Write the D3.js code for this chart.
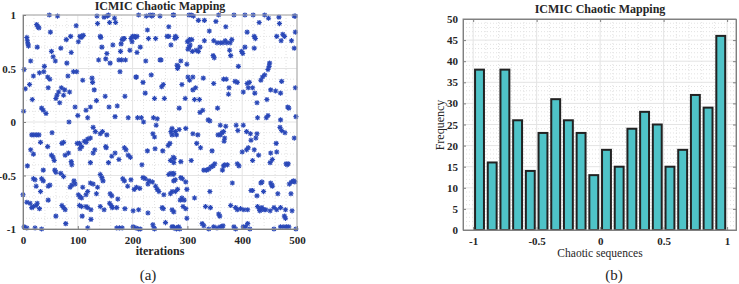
<!DOCTYPE html>
<html>
<head>
<meta charset="utf-8">
<script src="https://cdn.jsdelivr.net/npm/d3@7"></script>
<style>
  body { margin: 0; background: #fff; }
  text { font-family: "Liberation Serif", "Times New Roman", serif; fill: #262626; }
</style>
</head>
<body>
<div id="app"></div>
<script>
// scatter: [iteration, value]
const points = [
  [1,0.10],[2,0.49],[4,0.31],[7,0.79],[8,0.76],[9,0.73],[10,0.71],[12,0.35],[14,0.57],[17,0.21],[19,0.43],[25,0.91],[27,0.89],[29,0.88],[26,0.70],[30,0.46],[34,0.13],[37,0.11],[38,0.47],[39,0.52],[42,0.08],[45,0.42],[46,0.32],[48,1.0],[49,0.40],[50,0.84],[52,0.66],[55,0.61],[59,0.57],[60,0.22],[62,0.25],[63,0.99],[65,0.28],[67,0.18],[69,0.69],[70,0.32],[74,0.25],[76,0.30],[79,0.77],[80,0.55],[82,0.43],[84,0.0],[85,0.28],[87,0.80],[88,0.65],[92,0.47],[95,0.14],[97,0.90],[98,0.47],[100,0.06],[101,0.75],[104,0.80],[106,0.79],[108,0.80],[110,0.81],[109,0.39],[115,0.11],[118,0.04],[123,0.14],[126,0.41],[127,0.37],[128,-0.05],[130,0.30],[134,0.20],[135,0.99],[136,0.92],[138,0.58],[141,0.80],[142,0.79],[144,0.70],[150,0.24],[148,0.98],[151,0.59],[153,0.64],[154,0.99],[156,1.0],[157,0.14],[158,0.93],[159,0.55],[164,0.72],[167,0.97],[169,0.93],[168,0.05],[172,0.15],[175,0.58],[177,0.47],[178,0.66],[179,0.73],[180,0.58],[181,0.77],[183,0.78],[185,0.78],[186,0.24],[187,0.58],[192,0.04],[195,0.67],[197,0.78],[199,0.75],[200,0.80],[203,0.80],[205,0.79],[206,0.42],[207,0.42],[208,0.65],[208,0.80],[209,0.04],[211,1.0],[214,0.70],[216,0.04],[219,0.37],[220,0.0],[223,0.27],[224,0.57],[225,0.99],[227,0.86],[229,0.78],[232,1.0],[235,0.99],[237,1.0],[234,0.44],[238,0.04],[240,0.22],[242,0.78],[243,-0.03],[245,0.03],[250,0.99],[250,0.58],[252,0.58],[253,0.33],[256,0.35],[258,0.22],[263,0.80],[266,0.80],[266,0.89],[270,0.72],[274,1.0],[278,0.80],[280,0.79],[281,0.53],[283,0.52],[285,0.13],
  [275,1.0],[303,1.0],[307,1.0],[311,0.99],[320,0.95],[331,0.95],[352,0.94],[357,1.0],[385,1.0],[405,1.0],[420,1.0],[431,0.93],[441,1.0],[448,0.97],[467,0.98],[468,0.92],[495,0.99],[497,0.99],[277,0.78],[282,0.50],[288,0.57],[299,0.54],[300,0.75],[302,0.76],[304,0.77],[305,0.72],[303,0.70],[301,0.68],[309,0.66],[308,0.77],[316,0.67],[320,0.66],[323,0.70],[331,0.76],[340,0.85],[348,0.76],[354,0.74],[360,0.74],[365,0.74],[369,0.76],[372,0.74],[378,0.74],[381,0.77],[347,0.62],[349,0.60],[370,0.89],[377,0.67],[379,0.62],[393,0.52],[399,0.66],[401,0.64],[405,0.70],[409,0.84],[422,0.80],[424,0.78],[422,0.69],[450,0.55],[449,0.52],[447,0.49],[463,0.80],[474,0.82],[477,0.80],[471,0.76],[490,0.76],[495,0.69],[497,0.84],
  [301,0.42],[304,0.39],[310,0.42],[329,0.41],[290,0.35],[310,0.30],[315,0.32],[296,0.22],[313,0.21],[322,0.21],[348,0.36],[366,0.40],[371,0.40],[376,0.32],[375,0.26],[387,0.38],[391,0.37],[402,0.28],[409,0.36],[411,0.32],[413,0.37],[419,0.32],[423,0.27],[427,0.18],[434,0.39],[437,0.42],[441,0.44],[445,0.21],[452,0.30],[461,0.29],[470,0.27],[472,0.38],[483,0.14],[485,0.13],[497,0.32],[355,0.13],[323,0.09],[328,0.11],[338,0.02],[341,0.01],[360,-0.03],[389,-0.03],[402,-0.03],[428,0.04],[444,0.04],[447,0.06],[470,0.02],[469,-0.05],[498,0.05],[272,-0.06],[285,-0.07],[297,-0.06],[310,-0.11],[356,-0.12],[363,-0.10],[370,-0.04],[415,-0.11],[427,-0.11],[392,-0.08],[472,-0.08],
  [16,-0.12],[20,-0.12],[25,-0.12],[29,-0.12],[53,-0.10],[71,-0.20],[74,-0.19],[99,-0.20],[103,-0.2],[118,-0.16],[123,-0.15],[141,-0.11],[153,-0.12],[132,-0.09],[145,-0.09],[32,-0.19],[45,-0.23],[14,-0.26],[19,-0.30],[8,-0.41],[37,-0.45],[52,-0.31],[55,-0.33],[57,-0.36],[77,-0.31],[83,-0.29],[88,-0.37],[89,-0.40],[104,-0.25],[107,-0.23],[112,-0.18],[115,-0.19],[123,-0.38],[131,-0.26],[128,-0.29],[152,-0.24],[151,-0.23],[156,-0.38],[162,-0.32],[168,-0.29],[175,-0.35],[188,-0.26],[185,-0.24],[192,-0.31],[196,-0.33],[217,-0.40],[227,-0.27],[241,-0.25],[255,-0.27],[265,-0.22],[268,-0.20],[274,-0.33],[276,-0.34],[237,-0.11],[240,-0.14],[270,-0.09],[278,-0.09],
  [19,-0.53],[22,-0.54],[34,-0.53],[37,-0.55],[46,-0.60],[49,-0.59],[24,-0.60],[32,-0.65],[58,-0.45],[60,-0.47],[69,-0.48],[74,-0.51],[86,-0.61],[89,-0.59],[93,-0.55],[95,-0.58],[101,-0.68],[104,-0.70],[107,-0.71],[109,-0.61],[115,-0.68],[118,-0.65],[123,-0.57],[128,-0.58],[134,-0.67],[141,-0.49],[144,-0.52],[146,-0.55],[136,-0.61],[159,-0.67],[162,-0.69],[158,-0.76],[173,-0.72],[182,-0.53],[185,-0.55],[191,-0.60],[197,-0.54],[203,-0.63],[207,-0.61],[213,-0.62],[219,-0.52],[223,-0.53],[230,-0.55],[236,-0.56],[242,-0.60],[245,-0.63],[248,-0.65],[228,-0.58],[257,-0.68],[266,-0.49],[270,-0.48],[274,-0.49],[275,-0.55],[278,-0.65],[282,-0.63],[288,-0.52],
  [0,-0.68],[7,-0.75],[13,-0.76],[16,-0.80],[19,-0.79],[24,-0.78],[26,-0.76],[30,-0.81],[46,-0.73],[60,-0.88],[78,-0.95],[71,-0.78],[74,-0.80],[77,-0.82],[103,-0.78],[107,-0.79],[115,-0.79],[118,-0.80],[124,-0.82],[108,-0.88],[124,-0.91],[141,-0.79],[148,-0.82],[161,-0.78],[163,-0.80],[171,-0.80],[186,-0.81],[201,-0.83],[211,-0.82],[228,-0.85],[254,-0.80],[256,-0.81],[260,-0.94],[272,-0.82],[275,-0.84],[2,-0.98],[7,-0.99],[22,-0.99],[34,-1.0],[118,-0.99],[171,-0.99],[176,-0.99],[181,-0.99],[201,-0.98],[206,-0.99],[211,-1.0],[214,-1.0],[237,-0.96],[239,-0.99],[240,-1.0],[274,-0.98],[280,-0.99],
  [272,-0.12],[280,-0.12],[319,-0.12],[360,-0.12],[366,-0.09],[408,-0.09],[416,-0.17],[425,-0.15],[478,-0.10],[495,-0.15],[317,-0.20],[324,-0.24],[345,-0.27],[367,-0.18],[368,-0.15],[400,-0.28],[408,-0.26],[411,-0.24],[422,-0.26],[430,-0.31],[419,-0.36],[452,-0.29],[455,-0.35],[451,-0.38],[463,-0.28],[462,-0.20],[480,-0.39],[484,-0.39],[482,-0.40],[269,-0.36],[275,-0.38],[288,-0.37],[307,-0.36],[330,-0.45],[335,-0.45],[339,-0.44],[343,-0.42],[347,-0.41],[350,-0.39],[364,-0.45],[366,-0.41],[368,-0.40],[373,-0.40],[391,-0.39],[394,-0.41],
  [275,-0.48],[278,-0.54],[291,-0.53],[297,-0.56],[299,-0.63],[382,-0.57],[434,-0.57],[436,-0.56],[416,-0.64],[419,-0.64],[427,-0.69],[439,-0.65],[452,-0.57],[455,-0.60],[454,-0.59],[465,-0.67],[486,-0.58],[490,-0.56],[494,-0.55],[496,-0.56],[489,-0.67],[272,-0.65],[269,-0.67],[287,-0.73],[290,-0.71],[294,-0.73],[292,-0.79],[297,-0.81],[313,-0.71],[333,-0.79],[342,-0.80],[341,-0.65],[379,-0.78],[388,-0.80],[391,-0.82],[397,-0.81],[403,-0.82],[410,-0.82],[428,-0.79],[431,-0.81],[434,-0.82],[440,-0.82],[451,-0.83],[458,-0.80],[463,-0.82],[432,-0.83],[436,-0.80],[443,-0.82],[470,-0.80],[479,-0.82],[477,-0.88],[479,-0.90],[491,-0.83],[299,-0.90],[357,-0.86],[359,-0.88],
  [272,-0.98],[275,-0.99],[280,-1.0],[284,-0.98],[286,-1.0],[327,-0.95],[330,-0.97],[339,-1.0],[348,-0.98],[354,-0.99],[360,-0.98],[363,-0.98],[365,-0.97],[385,-0.98],[388,-1.0],[402,-0.98],[406,-0.98],[410,-0.95],[414,-1.0],[458,-1.0],[470,-0.98],[476,-0.98],[481,-0.98],[485,-0.98],[498,-1.0]
];

// histogram: 20 bins of width 0.1 from -1 to 1
const binStarts = d3.range(20).map((i) => -1 + i * 0.1);
const counts = [38, 16, 38, 26, 14, 23, 31, 26, 23, 13, 19, 15, 24, 28, 25, 15, 19, 32, 29, 46];

const leftXTicks = [0, 100, 200, 300, 400, 500];
const leftYTicks = [-1, -0.5, 0, 0.5, 1];
const rightXTicks = [-1, -0.5, 0, 0.5, 1];
const rightYTicks = d3.range(0, 51, 5);

const width = 739, height = 284;
const serif = '"Liberation Serif", "Times New Roman", serif';

const svg = d3.select("#app").append("svg")
  .attr("width", width).attr("height", height);

// ---------- left panel ----------
const lx = d3.scaleLinear().domain([0, 500]).range([23, 297]);
const ly = d3.scaleLinear().domain([-1, 1]).range([229, 15]);

function grid(g, x, y, xMinor, yMinor, xMajor, yMajor) {
  const [x0, x1] = x.range(), [y0, y1] = y.range();
  g.append("g").selectAll("line").data(xMinor).join("line")
    .attr("x1", (d) => x(d)).attr("x2", (d) => x(d)).attr("y1", y0).attr("y2", y1)
    .attr("stroke", "#e2e2e2").attr("stroke-dasharray", "1,2");
  g.append("g").selectAll("line").data(yMinor).join("line")
    .attr("y1", (d) => y(d)).attr("y2", (d) => y(d)).attr("x1", x0).attr("x2", x1)
    .attr("stroke", "#e2e2e2").attr("stroke-dasharray", "1,2");
  g.append("g").selectAll("line").data(xMajor).join("line")
    .attr("x1", (d) => x(d)).attr("x2", (d) => x(d)).attr("y1", y0).attr("y2", y1)
    .attr("stroke", "#e4e4e4");
  g.append("g").selectAll("line").data(yMajor).join("line")
    .attr("y1", (d) => y(d)).attr("y2", (d) => y(d)).attr("x1", x0).attr("x2", x1)
    .attr("stroke", "#e4e4e4");
}

function box(g, x, y, color) {
  const [x0, x1] = x.range(), [y0, y1] = y.range();
  g.append("rect").attr("x", x0).attr("y", y1).attr("width", x1 - x0).attr("height", y0 - y1)
    .attr("fill", "none").attr("stroke", color);
}

const styleAxis = (g) => {
  g.attr("font-family", serif);
  g.select(".domain").attr("stroke", "#808080");
  g.selectAll(".tick line").attr("stroke", "#808080");
  g.selectAll("text").attr("font-size", 11).attr("font-weight", "bold")
    .attr("font-family", serif).attr("fill", "#262626");
};

const fmt = (d) => String(d);

const gl = svg.append("g");
grid(gl.append("g"), lx, ly,
  d3.range(20, 500, 20).filter((d) => d % 100 !== 0),
  d3.range(-9, 10).map((d) => d / 10).filter((d) => Math.abs(d * 2 % 1) > 1e-9),
  leftXTicks, leftYTicks);

const star = "M-2.6,0H2.6M0,-2.6V2.6M-1.9,-1.9L1.9,1.9M-1.9,1.9L1.9,-1.9";
gl.append("g").selectAll("path").data(points).join("path")
  .attr("transform", (d) => `translate(${lx(d[0])},${ly(d[1])})`)
  .attr("d", star)
  .attr("stroke", "#2a48b8").attr("stroke-width", 1.1).attr("fill", "none");

box(gl, lx, ly, "#a8a8a8");

gl.append("g").attr("transform", `translate(0,${ly(-1)})`)
  .call(d3.axisBottom(lx).tickValues(leftXTicks).tickFormat(fmt).tickSize(-3).tickPadding(7))
  .call(styleAxis);
gl.append("g").attr("transform", `translate(${lx(0)},0)`)
  .call(d3.axisLeft(ly).tickValues(leftYTicks).tickFormat(fmt).tickSize(-3).tickPadding(7))
  .call(styleAxis);

gl.append("text").attr("x", 160).attr("y", 10).attr("text-anchor", "middle")
  .attr("font-size", 12).attr("font-weight", "bold").text("ICMIC Chaotic Mapping");
gl.append("text").attr("x", 160).attr("y", 255).attr("text-anchor", "middle")
  .attr("font-size", 12).attr("font-weight", "bold").text("iterations");
gl.append("text").attr("x", 148).attr("y", 280).attr("text-anchor", "middle")
  .attr("font-size", 15).text("(a)");

// ---------- right panel ----------
const rx = d3.scaleLinear().domain([-1.08, 1.07]).range([463, 736]);
const ry = d3.scaleLinear().domain([0, 50]).range([230, 19]);

const gr = svg.append("g");
grid(gr.append("g"), rx, ry,
  d3.range(-10, 11).map((d) => d / 10).filter((d) => Math.abs(d * 2 % 1) > 1e-9),
  d3.range(1, 50).filter((d) => d % 5 !== 0),
  rightXTicks, rightYTicks);

const bw = rx(0.1) - rx(0);
gr.append("g").selectAll("rect").data(counts).join("rect")
  .attr("x", (d, i) => rx(binStarts[i]) + 1.9)
  .attr("width", bw - 3.8)
  .attr("y", (d) => ry(d))
  .attr("height", (d) => ry(0) - ry(d))
  .attr("fill", "#4fc3c8").attr("stroke", "#222").attr("stroke-width", 2);

box(gr, rx, ry, "#909090");
gr.append("g").attr("transform", `translate(0,${ry(0)})`)
  .call(d3.axisBottom(rx).tickValues(rightXTicks).tickFormat(fmt).tickSize(-3).tickPadding(7))
  .call(styleAxis);
gr.append("g").attr("transform", `translate(${rx.range()[0]},0)`)
  .call(d3.axisLeft(ry).tickValues(rightYTicks).tickFormat(fmt).tickSize(-3).tickPadding(5))
  .call(styleAxis);
gr.append("g").attr("transform", `translate(${rx.range()[1]},0)`)
  .call(d3.axisRight(ry).tickValues(rightYTicks).tickFormat("").tickSize(-3))
  .call(styleAxis);
gr.append("g").attr("transform", `translate(0,${ry(50)})`)
  .call(d3.axisTop(rx).tickValues(rightXTicks).tickFormat("").tickSize(-3))
  .call(styleAxis);

gr.append("text").attr("x", 600).attr("y", 13).attr("text-anchor", "middle")
  .attr("font-size", 12).attr("font-weight", "bold").text("ICMIC Chaotic Mapping");
gr.append("text").attr("x", 600).attr("y", 257).attr("text-anchor", "middle")
  .attr("font-size", 11.5).text("Chaotic sequences");
gr.append("text").attr("transform", "translate(444,125) rotate(-90)").attr("text-anchor", "middle")
  .attr("font-size", 12).text("Frequency");
gr.append("text").attr("x", 614).attr("y", 280).attr("text-anchor", "middle")
  .attr("font-size", 15).text("(b)");
</script>
</body>
</html>
